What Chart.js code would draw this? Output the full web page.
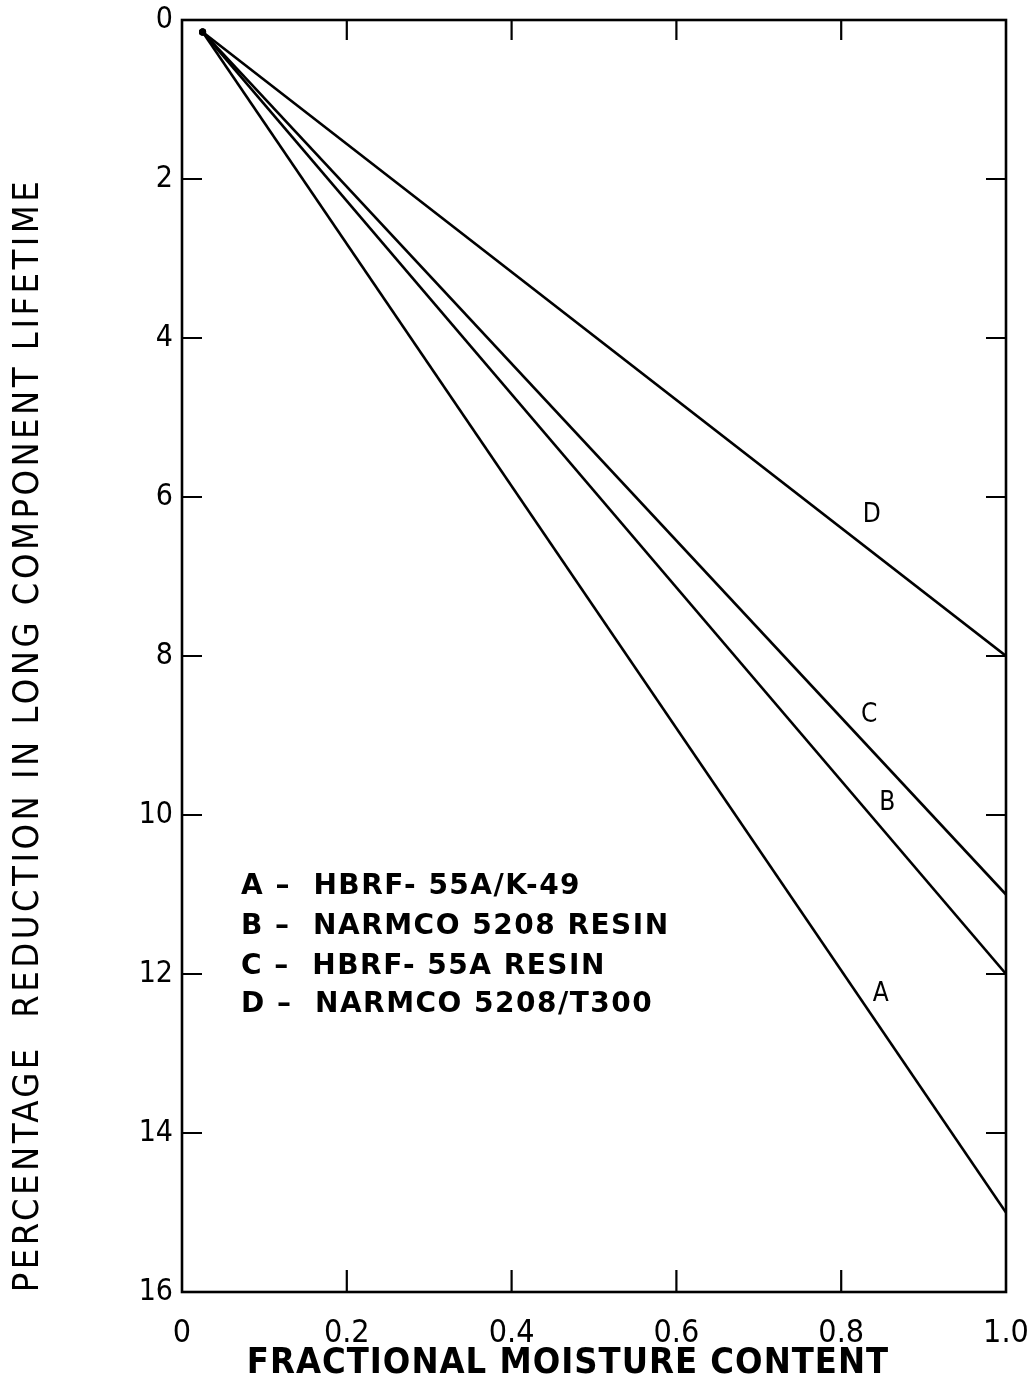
<!DOCTYPE html>
<html>
<head>
<meta charset="utf-8">
<script src="https://cdn.jsdelivr.net/npm/chart.js@4.4.1/dist/chart.umd.min.js"></script>
<style>
    html, body { margin: 0; padding: 0; background: #fff; }
    #wrap { width: 1035px; height: 1384px; }
</style>
</head>
<body>
<div id="wrap"><canvas id="chart"></canvas></div>
<script>
// data: all four curves leave a common point near the origin
const moisture = [0.025, 1.0];
const curveA = [0.15, 15.0];
const curveB = [0.15, 12.0];
const curveC = [0.15, 11.0];
const curveD = [0.15, 8.0];

const xTicks = [0, 0.2, 0.4, 0.6, 0.8, 1.0];
const yTicks = [0, 2, 4, 6, 8, 10, 12, 14, 16];

// curve letters, placed in data units
const curveLetters = ['A', 'B', 'C', 'D'];
const letterX = [0.848, 0.856, 0.834, 0.837];
const letterY = [12.26, 9.85, 8.74, 6.23];

// key text block
const keyLines = [
    'A \u2013  HBRF- 55A/K-49',
    'B \u2013  NARMCO 5208 RESIN',
    'C \u2013  HBRF- 55A RESIN',
    'D \u2013  NARMCO 5208/T300'
];
const keyX = 0.0716;
const keyY = [10.9, 11.41, 11.91, 12.39];

const xTitle = 'FRACTIONAL MOISTURE CONTENT';
const yTitle = 'PERCENTAGE  REDUCTION IN LONG COMPONENT LIFETIME';

const FONT = '"DejaVu Sans Condensed", "DejaVu Sans", sans-serif';

const toPts = (ys) => moisture.map((x, i) => ({ x, y: ys[i] }));
const line = (data) => ({
    data, borderColor: '#000', borderWidth: 2.6, showLine: true,
    pointRadius: [3.5, 0], pointBackgroundColor: '#000', pointBorderWidth: 0, tension: 0
});

const framePlugin = {
    id: 'frame',
    afterDraw(chart) {
        const { ctx, chartArea: a, scales: { x, y } } = chart;
        ctx.save();
        ctx.strokeStyle = '#000';
        ctx.lineWidth = 2.6;
        ctx.strokeRect(a.left, a.top, a.right - a.left, a.bottom - a.top);
        // inward ticks on all four sides
        ctx.lineWidth = 2.2;
        ctx.beginPath();
        x.ticks.forEach(t => {
            if (t.value === 0 || t.value === 1) return;
            const px = x.getPixelForValue(t.value);
            ctx.moveTo(px, a.bottom); ctx.lineTo(px, a.bottom - 22);
            ctx.moveTo(px, a.top); ctx.lineTo(px, a.top + 20);
        });
        y.ticks.forEach(t => {
            if (t.value === 0 || t.value === 16) return;
            const py = y.getPixelForValue(t.value);
            ctx.moveTo(a.left, py); ctx.lineTo(a.left + 20, py);
            ctx.moveTo(a.right, py); ctx.lineTo(a.right - 20, py);
        });
        ctx.stroke();

        ctx.fillStyle = '#000';
        ctx.textAlign = 'center';
        ctx.textBaseline = 'middle';
        ctx.font = '26px ' + FONT;
        curveLetters.forEach((l, i) => {
            ctx.fillText(l, x.getPixelForValue(letterX[i]), y.getPixelForValue(letterY[i]));
        });

        ctx.textAlign = 'left';
        ctx.font = 'bold 28px "DejaVu Sans", sans-serif';
        ctx.letterSpacing = '1.5px';
        keyLines.forEach((s, i) => {
            ctx.fillText(s, x.getPixelForValue(keyX), y.getPixelForValue(keyY[i]));
        });

        // axis titles
        ctx.textAlign = 'center';
        ctx.font = 'bold 36px ' + FONT;
        ctx.letterSpacing = '1px';
        ctx.fillText(xTitle, 568, 1364);
        ctx.font = '36px ' + FONT;
        ctx.letterSpacing = '3.5px';
        ctx.translate(29, 735);
        ctx.rotate(-Math.PI / 2);
        ctx.fillText(yTitle, 0, 0);
        ctx.restore();
    }
};

new Chart(document.getElementById('chart'), {
    type: 'scatter',
    data: {
        datasets: [line(toPts(curveA)), line(toPts(curveB)), line(toPts(curveC)), line(toPts(curveD))]
    },
    options: {
        responsive: true, maintainAspectRatio: false, animation: false,
        layout: { padding: { top: 20, right: 29, left: 0, bottom: 0 } },
        plugins: { legend: { display: false }, tooltip: { enabled: false } },
        scales: {
            x: {
                type: 'linear', min: 0, max: 1,
                afterBuildTicks: (s) => { s.ticks = xTicks.map(v => ({ value: v })); },
                afterFit: (s) => { s.height = 92; s.paddingLeft = 0; s.paddingRight = 0; },
                grid: { display: false, drawTicks: false }, border: { display: false },
                ticks: { color: '#000', padding: 22, maxRotation: 0, font: { family: FONT, size: 32 },
                    callback: (v) => v === 0 ? '0' : v.toFixed(1) }
            },
            y: {
                type: 'linear', min: 0, max: 16, reverse: true,
                afterBuildTicks: (s) => { s.ticks = yTicks.map(v => ({ value: v })); },
                afterFit: (s) => { s.width = 182; s.paddingTop = 0; s.paddingBottom = 0; },
                grid: { display: false, drawTicks: false }, border: { display: false },
                ticks: { color: '#000', padding: 9, font: { family: FONT, size: 30 } }
            }
        }
    },
    plugins: [framePlugin]
});
</script>
</body>
</html>
